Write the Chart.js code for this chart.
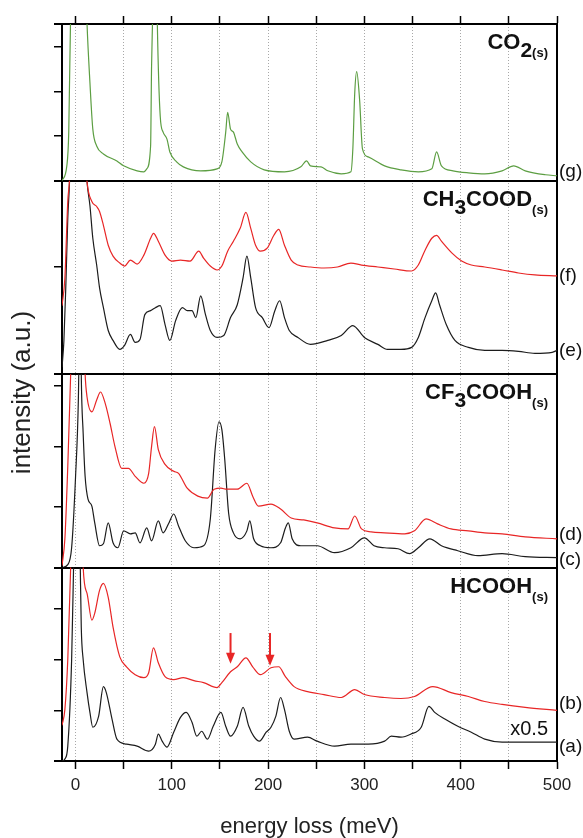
<!DOCTYPE html>
<html>
<head>
<meta charset="utf-8">
<script src="https://cdn.jsdelivr.net/npm/chart.js@4.4.1/dist/chart.umd.min.js"></script>
<style>
  html, body { margin: 0; padding: 0; background: #fff; }
  #spectra { display: block; }
</style>
</head>
<body>
<canvas id="spectra" width="583" height="838"></canvas>
<script>
// energy axis (meV)
const energyTicks = [0, 50, 100, 150, 200, 250, 300, 350, 400, 450, 500];
const xTickLabels = ['0', '', '100', '', '200', '', '300', '', '400', '', '500'];

// y ticks per panel (top to bottom), arbitrary units
const ticksCO2 = [0, 45, 90, 135, 158];
const ticksCH3 = [0, 108, 195];
const ticksCF3 = [0, 61, 122, 183, 195];
const ticksHCOOH = [0, 51, 102, 153, 195];

// (g) CO2(s)
const gEnergy = [-14,-9,-7,-5,0,5,10,12,15,18,22,29,43,50,64,71,74,78,79,80,83,85,88,91,95,98,105,112,130,147,152,156,158,161,164,168,173,182,196,217,234,240,244,255,262,276,286,288,290,292,295,298,304,321,338,356,370,375,380,392,408,425,443,455,467,488,500];
const gIntensity = [0,15,49,170,700,400,220,158,99,52,35,27,20,15,10,9,12,35,115,160,300,158,65,49,42,29,19,14,10,12,19,49,69,52,49,37,29,19,11,9,14,20,15,14,10,7,9,32,89,110,82,32,24,15,11,9,12,29,15,10,8,7,10,15,10,6,5];

// (f) CH3COOD(s), red
const fEnergy = [-14,-11,-8,-6,0,5,12,17,22,25,29,34,39,46,51,57,64,71,78,81,86,93,100,109,119,128,133,140,147,152,158,164,171,177,182,187,192,199,206,211,217,224,231,244,258,272,286,297,314,331,349,356,363,370,375,380,391,401,411,425,443,460,477,500];
const fIntensity = [69,97,174,200,400,300,194,174,169,164,150,130,119,112,109,115,111,120,137,142,134,120,114,115,114,124,117,109,105,109,124,134,147,163,147,130,124,127,140,146,130,115,110,108,107,108,112,110,108,106,104,110,125,137,140,134,122,114,110,108,105,102,100,99];

// (e) CH3COOD(s), black
const eEnergy = [-14,-12,-10,-8,-6,0,6,12,15,18,22,25,29,34,39,46,51,57,62,67,72,78,83,88,93,98,104,111,116,121,125,130,135,140,147,154,161,168,174,178,182,187,194,201,207,212,217,222,231,244,262,276,288,300,314,324,338,349,356,363,370,374,378,385,394,408,425,443,460,477,495,500];
const eIntensity = [7,34,90,157,200,500,300,194,170,137,110,87,67,44,34,25,29,40,32,35,60,64,67,69,50,34,54,67,64,64,57,79,60,44,37,39,57,70,97,119,97,67,57,47,64,74,57,44,37,30,34,39,49,37,30,25,25,27,37,57,74,82,70,50,34,27,24,24,23,21,22,24];

// (d) CF3COOH(s), red
const dEnergy = [-14,-11,-8,-5,0,5,10,12,17,22,26,31,36,41,48,55,62,71,76,79,82,86,93,102,107,116,127,137,144,151,157,168,178,184,190,203,213,224,237,251,269,283,290,297,307,321,342,352,364,376,390,408,425,443,467,500];
const dIntensity = [2,29,102,195,400,350,195,172,157,169,177,165,145,122,100,100,92,85,95,122,142,119,104,97,95,80,72,70,79,80,79,79,85,72,62,64,59,50,48,45,40,39,52,39,36,35,34,37,49,44,39,37,35,34,31,29];

// (c) CF3COOH(s), black
const cEnergy = [-14,-8,-4,0,3,5,6,8,10,13,17,20,25,29,34,39,44,50,57,62,67,74,79,86,91,97,102,107,114,123,133,140,145,149,152,155,159,164,171,178,181,185,192,203,213,218,221,225,234,251,269,286,300,310,321,335,347,356,368,380,397,418,443,467,500];
const cIntensity = [0,3,20,90,170,300,195,135,92,69,62,45,22,24,45,25,20,37,34,35,25,40,27,47,35,45,54,42,27,20,22,49,119,147,139,109,55,35,29,37,47,29,22,20,25,40,45,29,22,22,15,20,30,22,20,19,14,20,29,22,17,12,14,11,10];

// (b) HCOOH(s), red
const bEnergy = [-14,-11,-8,-5,0,5,8,12,17,20,25,29,34,39,46,53,62,71,76,81,86,93,102,112,123,133,147,152,161,168,177,184,192,203,211,218,227,241,258,276,290,300,321,338,352,371,390,408,425,443,467,500];
const bIntensity = [36,52,102,195,400,350,195,169,142,149,172,179,165,135,105,95,87,84,89,114,99,85,82,84,81,79,74,79,90,95,104,95,87,94,95,85,75,70,67,64,72,67,64,63,65,75,69,65,60,57,54,51];

// (a) HCOOH(s), black, x0.5
const aEnergy = [-14,-11,-8,-4,-2,2,5,6,8,12,15,18,24,29,32,38,43,53,64,76,83,86,90,95,102,109,115,121,126,131,137,143,151,156,161,168,174,180,185,191,198,203,208,213,217,222,227,241,251,269,286,304,321,328,338,348,359,367,373,384,397,411,425,443,460,477,500];
const aIntensity = [0,2,15,102,195,400,195,135,102,69,49,34,45,75,69,42,22,17,15,10,17,27,20,14,29,44,49,39,25,30,22,35,49,35,25,35,54,35,25,20,29,34,45,64,52,30,22,24,20,15,17,17,20,25,24,27,34,55,49,42,35,29,22,19,19,19,19];

// arrows in HCOOH panel
const arrowEnergy = [161, 202];
const arrowFrom = [129, 129];
const arrowTo = [98, 96];

const FONT = "'Liberation Sans', Arial, Helvetica, sans-serif";
const GREEN = 'rgb(92,158,66)';
const RED = 'rgb(232,38,38)';
const BLACK = 'rgb(28,28,28)';

function pts(xs, ys) {
  return xs.map((x, i) => ({ x: x, y: ys[i] }));
}

const series = [
  { label: '(g)', x: gEnergy, y: gIntensity, axis: 'yCO2', color: GREEN, nudge: -4 },
  { label: '(f)', x: fEnergy, y: fIntensity, axis: 'yCH3', color: RED, nudge: 0 },
  { label: '(e)', x: eEnergy, y: eIntensity, axis: 'yCH3', color: BLACK, nudge: 0 },
  { label: '(d)', x: dEnergy, y: dIntensity, axis: 'yCF3', color: RED, nudge: -4 },
  { label: '(c)', x: cEnergy, y: cIntensity, axis: 'yCF3', color: BLACK, nudge: 2 },
  { label: '(b)', x: bEnergy, y: bIntensity, axis: 'yHCOOH', color: RED, nudge: -7 },
  { label: '(a)', x: aEnergy, y: aIntensity, axis: 'yHCOOH', color: BLACK, nudge: 5 }
];

// panel names: [text, kind] ; m = main, d = subscript digit, s = (s)
const panelNames = [
  { axis: 'yCO2', parts: [['CO', 'm'], ['2', 'd'], ['(s)', 's']] },
  { axis: 'yCH3', parts: [['CH', 'm'], ['3', 'd'], ['COOD', 'm'], ['(s)', 's']] },
  { axis: 'yCF3', parts: [['CF', 'm'], ['3', 'd'], ['COOH', 'm'], ['(s)', 's']] },
  { axis: 'yHCOOH', parts: [['HCOOH', 'm'], ['(s)', 's']] }
];

const partFont = { m: 'bold 22px ' + FONT, d: 'bold 21px ' + FONT, s: 'bold 13px ' + FONT };
const partShift = { m: 0, d: 8, s: 8 };

function panelAxis(ticks, weight, stackWeight) {
  const isBound = c => c.tick && (c.tick.value === ticks[0] || c.tick.value === ticks[ticks.length - 1]);
  return {
    type: 'linear',
    position: 'left',
    stack: 'panels',
    stackWeight: stackWeight,
    weight: weight,
    min: ticks[0],
    max: ticks[ticks.length - 1],
    afterBuildTicks: axis => { axis.ticks = ticks.map(v => ({ value: v })); },
    ticks: { display: false },
    grid: {
      drawOnChartArea: true,
      color: c => isBound(c) ? '#000' : 'rgba(0,0,0,0)',
      lineWidth: c => isBound(c) ? 2 : 1.5,
      tickColor: '#000',
      tickWidth: c => isBound(c) ? 2 : 1.5,
      tickLength: 8
    },
    border: { display: true, color: '#000', width: 2 }
  };
}

const decorations = {
  id: 'decorations',
  beforeDatasetsDraw(chart) {
    const ctx = chart.ctx;
    const area = chart.chartArea;
    ctx.save();
    ctx.strokeStyle = '#000';
    ctx.lineWidth = 2;
    ctx.beginPath();
    ctx.moveTo(area.right, area.top);
    ctx.lineTo(area.right, area.bottom);
    ctx.stroke();
    ctx.restore();
  },
  afterDatasetsDraw(chart) {
    const ctx = chart.ctx;
    const area = chart.chartArea;
    const xs = chart.scales.x;
    ctx.save();

    // panel names, right aligned
    panelNames.forEach(p => {
      const scale = chart.scales[p.axis];
      const base = scale.top + 25;
      let total = 0;
      p.parts.forEach(pt => { ctx.font = partFont[pt[1]]; total += ctx.measureText(pt[0]).width; });
      let x = area.right - 9 - total;
      ctx.fillStyle = '#111';
      ctx.textBaseline = 'alphabetic';
      ctx.textAlign = 'left';
      p.parts.forEach(pt => {
        ctx.font = partFont[pt[1]];
        ctx.fillText(pt[0], x, base + partShift[pt[1]]);
        x += ctx.measureText(pt[0]).width;
      });
    });

    // curve labels at the right end
    ctx.font = '19px ' + FONT;
    ctx.fillStyle = '#111';
    ctx.textAlign = 'left';
    ctx.textBaseline = 'middle';
    series.forEach(s => {
      const scale = chart.scales[s.axis];
      const y = scale.getPixelForValue(s.y[s.y.length - 1]);
      ctx.fillText(s.label, area.right + 2, y + s.nudge);
    });

    // x0.5 note
    const yH = chart.scales.yHCOOH;
    ctx.font = '20px ' + FONT;
    ctx.textAlign = 'right';
    ctx.fillText('x0.5', area.right - 9, yH.getPixelForValue(32));

    // arrows
    ctx.strokeStyle = RED;
    ctx.fillStyle = RED;
    ctx.lineWidth = 2;
    arrowEnergy.forEach((e, i) => {
      const px = xs.getPixelForValue(e);
      const top = yH.getPixelForValue(arrowFrom[i]);
      const tip = yH.getPixelForValue(arrowTo[i]);
      ctx.beginPath();
      ctx.moveTo(px, top);
      ctx.lineTo(px, tip - 8);
      ctx.stroke();
      ctx.beginPath();
      ctx.moveTo(px - 4.5, tip - 11);
      ctx.lineTo(px + 4.5, tip - 11);
      ctx.lineTo(px, tip);
      ctx.closePath();
      ctx.fill();
    });
    ctx.restore();
  }
};

const datasets = series.map(s => ({
  label: s.label,
  data: pts(s.x, s.y),
  xAxisID: 'x',
  yAxisID: s.axis,
  borderColor: s.color,
  borderWidth: 1.2,
  pointRadius: 0,
  fill: false,
  cubicInterpolationMode: 'monotone'
}));

new Chart(document.getElementById('spectra'), {
  type: 'line',
  data: { datasets: datasets },
  options: {
    responsive: false,
    animation: false,
    devicePixelRatio: 1,
    layout: { padding: { top: 16, right: 26, bottom: 0, left: 0 } },
    plugins: {
      legend: { display: false },
      tooltip: { enabled: false },
      title: {
        display: true,
        text: 'intensity (a.u.)',
        position: 'left',
        fullSize: false,
        color: '#222',
        font: { family: FONT, size: 26, weight: 'normal', lineHeight: 1.25 },
        padding: { top: 7, bottom: 14.5 }
      }
    },
    scales: {
      x: {
        type: 'linear',
        position: 'bottom',
        min: -14,
        max: 500,
        afterBuildTicks: axis => { axis.ticks = energyTicks.map(v => ({ value: v })); },
        ticks: {
          autoSkip: false,
          maxRotation: 0,
          padding: 6,
          color: '#222',
          font: { family: FONT, size: 17 },
          callback: (v, i) => xTickLabels[i]
        },
        grid: {
          drawOnChartArea: true,
          color: '#a8a8a8',
          lineWidth: 1,
          tickColor: '#000',
          tickWidth: 1.5,
          tickLength: 8
        },
        border: { display: true, color: '#000', width: 2, dash: [1, 2] },
        title: {
          display: true,
          text: 'energy loss (meV)',
          color: '#222',
          font: { family: FONT, size: 22, lineHeight: 1 },
          padding: { top: 14.6, bottom: 0 }
        }
      },
      xTop: {
        type: 'linear',
        position: 'top',
        min: -14,
        max: 500,
        afterBuildTicks: axis => { axis.ticks = energyTicks.map(v => ({ value: v })); },
        ticks: { display: false },
        grid: { drawOnChartArea: false, color: '#000', tickColor: '#000', tickWidth: 1.5, tickLength: 8 },
        border: { display: true, color: '#000', width: 2 }
      },
      yCO2: panelAxis(ticksCO2, 4, 158),
      yCH3: panelAxis(ticksCH3, 3, 195),
      yCF3: panelAxis(ticksCF3, 2, 195),
      yHCOOH: panelAxis(ticksHCOOH, 1, 195)
    }
  },
  plugins: [decorations]
});
</script>
</body>
</html>
